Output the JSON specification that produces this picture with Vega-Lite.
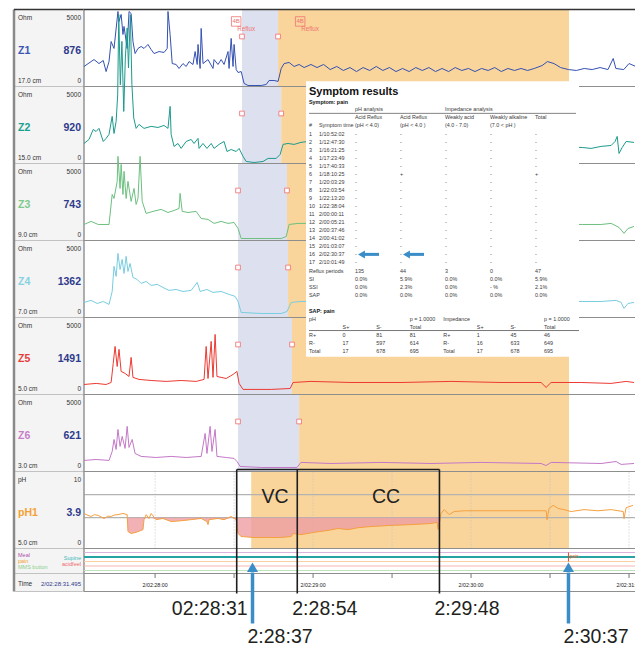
{
"$schema":"https://vega.github.io/schema/vega-lite/v6.json",
"padding":{"left":12,"top":7.5,"right":0,"bottom":0},
"background":"#ffffff",
"bounds":"flush",
"spacing":0,
"config":{"view":{"stroke":null},"font":"Liberation Sans","text":{"font":"Liberation Sans Narrow, Liberation Sans, sans-serif"}},
"datasets":{
"cells":[
{"row":"Z1","unit":"Ohm","max":"5000","val":"876","pos":"17.0 cm","min":"0"},
{"row":"Z2","unit":"Ohm","max":"5000","val":"920","pos":"15.0 cm","min":"0"},
{"row":"Z3","unit":"Ohm","max":"5000","val":"743","pos":"9.0 cm","min":"0"},
{"row":"Z4","unit":"Ohm","max":"5000","val":"1362","pos":"7.0 cm","min":"0"},
{"row":"Z5","unit":"Ohm","max":"5000","val":"1491","pos":"5.0 cm","min":"0"},
{"row":"Z6","unit":"Ohm","max":"5000","val":"621","pos":"3.0 cm","min":"0"},
{"row":"pH1","unit":"pH","max":"10","val":"3.9","pos":"5.0 cm","min":"0"}],
"rows2":[{"row":"events"},{"row":"time","label":"Time","value":"2/02:28:31.495"}],
"tracks":[{"track":"Meal"},{"track":"Supine"},{"track":"pain"},{"track":"acidfeel"},{"track":"MMS button"}],
"ticks":[{"t":0,"label":"2/02:28:00"},{"t":30},{"t":60,"label":"2/02:29:00"},{"t":90},{"t":120,"label":"2/02:30:00"},{"t":150},{"t":180,"label":"2/02:31:00"}],
"phlines":[{"level":4},{"level":7}],
"shade":[
{"panel":"Z1","phase":"bolus","t":33.0,"t2":46.7},{"panel":"Z1","phase":"acid","t":46.7,"t2":157.2},
{"panel":"Z2","phase":"bolus","t":33.0,"t2":47.9},{"panel":"Z2","phase":"acid","t":47.9,"t2":157.2},
{"panel":"Z3","phase":"bolus","t":31.5,"t2":50.1},{"panel":"Z3","phase":"acid","t":50.1,"t2":157.2},
{"panel":"Z4","phase":"bolus","t":31.5,"t2":50.5},{"panel":"Z4","phase":"acid","t":50.5,"t2":157.2},
{"panel":"Z5","phase":"bolus","t":31.5,"t2":52.0},{"panel":"Z5","phase":"acid","t":52.0,"t2":157.2},
{"panel":"Z6","phase":"bolus","t":31.5,"t2":54.7},{"panel":"Z6","phase":"acid","t":54.7,"t2":157.2},
{"panel":"pH1","phase":"acid","t":36.5,"t2":157.2}],
"z":[
{"ch":"Z1","t":-27,"v":1300},{"ch":"Z1","t":-24.3,"v":1620},{"ch":"Z1","t":-23.2,"v":1750},{"ch":"Z1","t":-21.3,"v":1490},{"ch":"Z1","t":-19.7,"v":1690},{"ch":"Z1","t":-18.6,"v":970},{"ch":"Z1","t":-17.5,"v":1620},{"ch":"Z1","t":-16.7,"v":2920},{"ch":"Z1","t":-15.6,"v":2470},{"ch":"Z1","t":-14.1,"v":4870},{"ch":"Z1","t":-13.7,"v":4220},{"ch":"Z1","t":-12.9,"v":4680},{"ch":"Z1","t":-12.2,"v":3380},{"ch":"Z1","t":-11.8,"v":3900},{"ch":"Z1","t":-10.6,"v":2470},{"ch":"Z1","t":-9.9,"v":4870},{"ch":"Z1","t":-9.1,"v":4740},{"ch":"Z1","t":-8.4,"v":2920},{"ch":"Z1","t":-7.6,"v":2140},{"ch":"Z1","t":-6.5,"v":2470},{"ch":"Z1","t":-5.3,"v":2600},{"ch":"Z1","t":-4.2,"v":2470},{"ch":"Z1","t":-2.7,"v":2730},{"ch":"Z1","t":-1.5,"v":2400},{"ch":"Z1","t":-0.4,"v":2140},{"ch":"Z1","t":1.5,"v":2270},{"ch":"Z1","t":3.4,"v":2210},{"ch":"Z1","t":4.6,"v":2470},{"ch":"Z1","t":4.9,"v":4870},{"ch":"Z1","t":5.7,"v":3380},{"ch":"Z1","t":6.5,"v":1490},{"ch":"Z1","t":8.0,"v":1430},{"ch":"Z1","t":9.1,"v":1170},{"ch":"Z1","t":10.6,"v":1490},{"ch":"Z1","t":11.8,"v":1300},{"ch":"Z1","t":12.9,"v":1620},{"ch":"Z1","t":14.4,"v":1430},{"ch":"Z1","t":15.2,"v":2270},{"ch":"Z1","t":16.0,"v":1430},{"ch":"Z1","t":16.3,"v":2730},{"ch":"Z1","t":17.1,"v":1170},{"ch":"Z1","t":17.5,"v":3770},{"ch":"Z1","t":18.2,"v":1490},{"ch":"Z1","t":20.1,"v":1750},{"ch":"Z1","t":22.0,"v":1170},{"ch":"Z1","t":22.4,"v":1750},{"ch":"Z1","t":23.9,"v":1430},{"ch":"Z1","t":25.1,"v":1750},{"ch":"Z1","t":26.2,"v":1430},{"ch":"Z1","t":27.7,"v":2270},{"ch":"Z1","t":28.1,"v":1170},{"ch":"Z1","t":28.9,"v":3120},{"ch":"Z1","t":29.6,"v":1300},{"ch":"Z1","t":30.0,"v":2730},{"ch":"Z1","t":30.8,"v":1100},{"ch":"Z1","t":31.5,"v":910},{"ch":"Z1","t":32.7,"v":970},{"ch":"Z1","t":33.8,"v":200},{"ch":"Z1","t":35.3,"v":65},{"ch":"Z1","t":37.6,"v":65},{"ch":"Z1","t":40.3,"v":65},{"ch":"Z1","t":42.2,"v":130},{"ch":"Z1","t":43.3,"v":390},{"ch":"Z1","t":45.2,"v":390},{"ch":"Z1","t":46.7,"v":330},{"ch":"Z1","t":47.9,"v":1170},{"ch":"Z1","t":49.0,"v":1490},{"ch":"Z1","t":50.9,"v":1560},{"ch":"Z1","t":52.8,"v":1300},{"ch":"Z1","t":54.7,"v":1430},{"ch":"Z1","t":56.6,"v":1230},{"ch":"Z1","t":59.2,"v":1430},{"ch":"Z1","t":61.5,"v":1230},{"ch":"Z1","t":64,"v":1430},{"ch":"Z1","t":66.5,"v":1100},{"ch":"Z1","t":69,"v":1300},{"ch":"Z1","t":71.5,"v":1040},{"ch":"Z1","t":74,"v":1230},{"ch":"Z1","t":76.5,"v":970},{"ch":"Z1","t":79,"v":1230},{"ch":"Z1","t":81.5,"v":1040},{"ch":"Z1","t":84,"v":1300},{"ch":"Z1","t":86.5,"v":1040},{"ch":"Z1","t":89,"v":1230},{"ch":"Z1","t":91.5,"v":970},{"ch":"Z1","t":94,"v":1170},{"ch":"Z1","t":96.5,"v":970},{"ch":"Z1","t":99,"v":1230},{"ch":"Z1","t":101.5,"v":1040},{"ch":"Z1","t":104,"v":1230},{"ch":"Z1","t":106.5,"v":970},{"ch":"Z1","t":109,"v":1170},{"ch":"Z1","t":111.5,"v":970},{"ch":"Z1","t":114,"v":1230},{"ch":"Z1","t":116.5,"v":1040},{"ch":"Z1","t":119,"v":1170},{"ch":"Z1","t":121.5,"v":970},{"ch":"Z1","t":124,"v":1170},{"ch":"Z1","t":126.5,"v":1040},{"ch":"Z1","t":129,"v":1230},{"ch":"Z1","t":131.5,"v":970},{"ch":"Z1","t":134,"v":1170},{"ch":"Z1","t":136.5,"v":1040},{"ch":"Z1","t":139,"v":1170},{"ch":"Z1","t":141.5,"v":1040},{"ch":"Z1","t":144,"v":1170},{"ch":"Z1","t":147,"v":1360},{"ch":"Z1","t":149,"v":1620},{"ch":"Z1","t":151.5,"v":1490},{"ch":"Z1","t":154,"v":1230},{"ch":"Z1","t":157,"v":1100},{"ch":"Z1","t":160,"v":1040},{"ch":"Z1","t":163,"v":1170},{"ch":"Z1","t":166,"v":1100},{"ch":"Z1","t":169,"v":1230},{"ch":"Z1","t":172,"v":1100},{"ch":"Z1","t":174,"v":1820},{"ch":"Z1","t":175,"v":1170},{"ch":"Z1","t":178,"v":1100},{"ch":"Z1","t":180,"v":1490},{"ch":"Z1","t":182.6,"v":1300},
{"ch":"Z2","t":-27,"v":1300},{"ch":"Z2","t":-25.1,"v":1560},{"ch":"Z2","t":-23.5,"v":2210},{"ch":"Z2","t":-22.4,"v":2080},{"ch":"Z2","t":-21.3,"v":2280},{"ch":"Z2","t":-19.7,"v":1430},{"ch":"Z2","t":-18.6,"v":1630},{"ch":"Z2","t":-17.5,"v":1890},{"ch":"Z2","t":-16.3,"v":3060},{"ch":"Z2","t":-15.6,"v":1950},{"ch":"Z2","t":-14.8,"v":2730},{"ch":"Z2","t":-14.2,"v":4460},{"ch":"Z2","t":-13.8,"v":9660},{"ch":"Z2","t":-13.2,"v":5110},{"ch":"Z2","t":-12.6,"v":7930},{"ch":"Z2","t":-11.9,"v":3380},{"ch":"Z2","t":-11.3,"v":6850},{"ch":"Z2","t":-10.6,"v":8800},{"ch":"Z2","t":-10.1,"v":6200},{"ch":"Z2","t":-9.4,"v":9660},{"ch":"Z2","t":-8.8,"v":5110},{"ch":"Z2","t":-8.1,"v":2950},{"ch":"Z2","t":-7.2,"v":2280},{"ch":"Z2","t":-6.1,"v":2540},{"ch":"Z2","t":-4.2,"v":2280},{"ch":"Z2","t":-1.5,"v":2410},{"ch":"Z2","t":1.1,"v":2340},{"ch":"Z2","t":3.4,"v":2470},{"ch":"Z2","t":4.9,"v":2280},{"ch":"Z2","t":5.7,"v":3710},{"ch":"Z2","t":6.1,"v":1890},{"ch":"Z2","t":7.2,"v":1110},{"ch":"Z2","t":8.7,"v":1300},{"ch":"Z2","t":9.9,"v":980},{"ch":"Z2","t":11.8,"v":1430},{"ch":"Z2","t":13.7,"v":1560},{"ch":"Z2","t":14.8,"v":1300},{"ch":"Z2","t":16.3,"v":1630},{"ch":"Z2","t":16.7,"v":980},{"ch":"Z2","t":18.2,"v":1300},{"ch":"Z2","t":19.7,"v":980},{"ch":"Z2","t":21.3,"v":1300},{"ch":"Z2","t":22.4,"v":980},{"ch":"Z2","t":24.3,"v":1240},{"ch":"Z2","t":26.2,"v":1430},{"ch":"Z2","t":27.3,"v":780},{"ch":"Z2","t":28.9,"v":910},{"ch":"Z2","t":30.8,"v":780},{"ch":"Z2","t":31.9,"v":980},{"ch":"Z2","t":33.4,"v":460},{"ch":"Z2","t":34.6,"v":130},{"ch":"Z2","t":37.6,"v":65},{"ch":"Z2","t":41.0,"v":130},{"ch":"Z2","t":42.9,"v":330},{"ch":"Z2","t":46.0,"v":330},{"ch":"Z2","t":47.5,"v":590},{"ch":"Z2","t":48.6,"v":1240},{"ch":"Z2","t":50.5,"v":1300},{"ch":"Z2","t":52.8,"v":1240},{"ch":"Z2","t":55.4,"v":1370},{"ch":"Z2","t":58.1,"v":1430},{"ch":"Z2","t":90,"v":1300},{"ch":"Z2","t":130,"v":1200},{"ch":"Z2","t":162.2,"v":1040},{"ch":"Z2","t":165.6,"v":980},{"ch":"Z2","t":169.4,"v":1110},{"ch":"Z2","t":173.2,"v":1170},{"ch":"Z2","t":174.7,"v":1430},{"ch":"Z2","t":175.5,"v":1760},{"ch":"Z2","t":176.2,"v":650},{"ch":"Z2","t":177.4,"v":1040},{"ch":"Z2","t":178.9,"v":1430},{"ch":"Z2","t":181.9,"v":1370},
{"ch":"Z3","t":-27,"v":1040},{"ch":"Z3","t":-24.3,"v":1240},{"ch":"Z3","t":-21.6,"v":1040},{"ch":"Z3","t":-17.5,"v":1040},{"ch":"Z3","t":-16.3,"v":2990},{"ch":"Z3","t":-15.6,"v":2730},{"ch":"Z3","t":-14.4,"v":3840},{"ch":"Z3","t":-14.1,"v":5460},{"ch":"Z3","t":-13.3,"v":3380},{"ch":"Z3","t":-12.9,"v":4940},{"ch":"Z3","t":-12.2,"v":2990},{"ch":"Z3","t":-11.8,"v":4490},{"ch":"Z3","t":-11.0,"v":2730},{"ch":"Z3","t":-10.3,"v":3840},{"ch":"Z3","t":-9.1,"v":2540},{"ch":"Z3","t":-8.0,"v":3380},{"ch":"Z3","t":-7.2,"v":2340},{"ch":"Z3","t":-6.5,"v":2730},{"ch":"Z3","t":-5.7,"v":5460},{"ch":"Z3","t":-4.9,"v":2540},{"ch":"Z3","t":-3.4,"v":1760},{"ch":"Z3","t":-0.8,"v":1890},{"ch":"Z3","t":2.3,"v":2020},{"ch":"Z3","t":4.9,"v":1820},{"ch":"Z3","t":7.2,"v":1950},{"ch":"Z3","t":9.1,"v":2080},{"ch":"Z3","t":9.5,"v":3060},{"ch":"Z3","t":10.3,"v":1890},{"ch":"Z3","t":12.5,"v":1820},{"ch":"Z3","t":15.6,"v":1890},{"ch":"Z3","t":17.5,"v":1430},{"ch":"Z3","t":20.1,"v":1370},{"ch":"Z3","t":22.4,"v":1110},{"ch":"Z3","t":25.1,"v":1240},{"ch":"Z3","t":27.7,"v":1110},{"ch":"Z3","t":30.0,"v":1170},{"ch":"Z3","t":31.5,"v":780},{"ch":"Z3","t":32.7,"v":130},{"ch":"Z3","t":37.6,"v":130},{"ch":"Z3","t":42.9,"v":130},{"ch":"Z3","t":47.9,"v":130},{"ch":"Z3","t":49.8,"v":260},{"ch":"Z3","t":50.9,"v":1040},{"ch":"Z3","t":54.3,"v":1110},{"ch":"Z3","t":58.1,"v":1110},{"ch":"Z3","t":100,"v":1100},{"ch":"Z3","t":140,"v":1050},{"ch":"Z3","t":162.2,"v":1040},{"ch":"Z3","t":169.4,"v":1040},{"ch":"Z3","t":173.2,"v":1110},{"ch":"Z3","t":176.2,"v":850},{"ch":"Z3","t":178.1,"v":460},{"ch":"Z3","t":179.6,"v":780},{"ch":"Z3","t":181.9,"v":910},
{"ch":"Z4","t":-27,"v":980},{"ch":"Z4","t":-24.3,"v":1110},{"ch":"Z4","t":-22,"v":910},{"ch":"Z4","t":-19.7,"v":1040},{"ch":"Z4","t":-17.5,"v":850},{"ch":"Z4","t":-16.3,"v":1690},{"ch":"Z4","t":-15.6,"v":3320},{"ch":"Z4","t":-14.8,"v":2670},{"ch":"Z4","t":-14.1,"v":4160},{"ch":"Z4","t":-13.3,"v":3120},{"ch":"Z4","t":-12.5,"v":3770},{"ch":"Z4","t":-11.8,"v":2860},{"ch":"Z4","t":-11.0,"v":3970},{"ch":"Z4","t":-10.3,"v":2990},{"ch":"Z4","t":-9.5,"v":3510},{"ch":"Z4","t":-8.4,"v":2600},{"ch":"Z4","t":-6.8,"v":2470},{"ch":"Z4","t":-5.3,"v":2210},{"ch":"Z4","t":-3.4,"v":2340},{"ch":"Z4","t":-1.5,"v":2080},{"ch":"Z4","t":0.8,"v":2150},{"ch":"Z4","t":3.0,"v":1950},{"ch":"Z4","t":5.3,"v":1760},{"ch":"Z4","t":8.0,"v":1820},{"ch":"Z4","t":10.6,"v":1690},{"ch":"Z4","t":13.7,"v":1760},{"ch":"Z4","t":16.0,"v":2280},{"ch":"Z4","t":17.1,"v":1690},{"ch":"Z4","t":19.7,"v":1820},{"ch":"Z4","t":22.0,"v":1630},{"ch":"Z4","t":25.1,"v":1690},{"ch":"Z4","t":28.1,"v":1500},{"ch":"Z4","t":30.4,"v":1370},{"ch":"Z4","t":31.5,"v":1040},{"ch":"Z4","t":32.7,"v":330},{"ch":"Z4","t":40.3,"v":260},{"ch":"Z4","t":47.9,"v":260},{"ch":"Z4","t":50.1,"v":390},{"ch":"Z4","t":51.7,"v":980},{"ch":"Z4","t":55.4,"v":1040},{"ch":"Z4","t":80,"v":1040},{"ch":"Z4","t":120,"v":1000},{"ch":"Z4","t":150,"v":1050},{"ch":"Z4","t":162.2,"v":1040},{"ch":"Z4","t":169.4,"v":1040},{"ch":"Z4","t":175.1,"v":1110},{"ch":"Z4","t":177.0,"v":980},{"ch":"Z4","t":178.1,"v":590},{"ch":"Z4","t":179.6,"v":910},{"ch":"Z4","t":181.9,"v":980},
{"ch":"Z5","t":-27,"v":650},{"ch":"Z5","t":-22.4,"v":720},{"ch":"Z5","t":-18.6,"v":650},{"ch":"Z5","t":-16.7,"v":780},{"ch":"Z5","t":-15.9,"v":2020},{"ch":"Z5","t":-15.2,"v":3120},{"ch":"Z5","t":-14.4,"v":1820},{"ch":"Z5","t":-13.7,"v":2930},{"ch":"Z5","t":-12.9,"v":1500},{"ch":"Z5","t":-11.4,"v":1370},{"ch":"Z5","t":-9.9,"v":1170},{"ch":"Z5","t":-9.1,"v":2410},{"ch":"Z5","t":-8.4,"v":1110},{"ch":"Z5","t":-6.1,"v":980},{"ch":"Z5","t":-1.5,"v":910},{"ch":"Z5","t":4.2,"v":850},{"ch":"Z5","t":9.9,"v":910},{"ch":"Z5","t":15.6,"v":850},{"ch":"Z5","t":18.6,"v":980},{"ch":"Z5","t":19.4,"v":3120},{"ch":"Z5","t":20.1,"v":1040},{"ch":"Z5","t":21.3,"v":3450},{"ch":"Z5","t":22.0,"v":1110},{"ch":"Z5","t":22.8,"v":3900},{"ch":"Z5","t":23.5,"v":1170},{"ch":"Z5","t":27.0,"v":1040},{"ch":"Z5","t":29.6,"v":1300},{"ch":"Z5","t":31.1,"v":1500},{"ch":"Z5","t":31.9,"v":720},{"ch":"Z5","t":33.4,"v":330},{"ch":"Z5","t":44.1,"v":330},{"ch":"Z5","t":51.3,"v":390},{"ch":"Z5","t":52.4,"v":780},{"ch":"Z5","t":59.2,"v":850},{"ch":"Z5","t":74.4,"v":780},{"ch":"Z5","t":93.4,"v":780},{"ch":"Z5","t":112.4,"v":850},{"ch":"Z5","t":131.4,"v":780},{"ch":"Z5","t":146.6,"v":780},{"ch":"Z5","t":148.5,"v":460},{"ch":"Z5","t":150.4,"v":780},{"ch":"Z5","t":161.8,"v":780},{"ch":"Z5","t":173.2,"v":720},{"ch":"Z5","t":178.9,"v":850},{"ch":"Z5","t":181.9,"v":780},
{"ch":"Z6","t":-27,"v":720},{"ch":"Z6","t":-22.4,"v":780},{"ch":"Z6","t":-17.5,"v":720},{"ch":"Z6","t":-16.3,"v":1300},{"ch":"Z6","t":-15.6,"v":2080},{"ch":"Z6","t":-14.8,"v":1430},{"ch":"Z6","t":-14.1,"v":2730},{"ch":"Z6","t":-13.3,"v":1630},{"ch":"Z6","t":-12.5,"v":2280},{"ch":"Z6","t":-11.4,"v":1500},{"ch":"Z6","t":-10.6,"v":2930},{"ch":"Z6","t":-9.9,"v":1560},{"ch":"Z6","t":-8.7,"v":2080},{"ch":"Z6","t":-7.6,"v":1170},{"ch":"Z6","t":-5.3,"v":980},{"ch":"Z6","t":0.4,"v":910},{"ch":"Z6","t":6.1,"v":980},{"ch":"Z6","t":11.8,"v":910},{"ch":"Z6","t":17.5,"v":980},{"ch":"Z6","t":19.0,"v":2470},{"ch":"Z6","t":19.7,"v":1170},{"ch":"Z6","t":20.9,"v":2930},{"ch":"Z6","t":21.6,"v":1300},{"ch":"Z6","t":22.8,"v":2730},{"ch":"Z6","t":23.5,"v":980},{"ch":"Z6","t":27.0,"v":910},{"ch":"Z6","t":30.0,"v":850},{"ch":"Z6","t":31.1,"v":650},{"ch":"Z6","t":32.3,"v":330},{"ch":"Z6","t":40.3,"v":260},{"ch":"Z6","t":53.9,"v":260},{"ch":"Z6","t":55.4,"v":590},{"ch":"Z6","t":66.8,"v":520},{"ch":"Z6","t":85.8,"v":590},{"ch":"Z6","t":104.8,"v":520},{"ch":"Z6","t":123.8,"v":590},{"ch":"Z6","t":146.6,"v":520},{"ch":"Z6","t":148.5,"v":390},{"ch":"Z6","t":150.4,"v":590},{"ch":"Z6","t":169.4,"v":520},{"ch":"Z6","t":175.1,"v":650},{"ch":"Z6","t":177.0,"v":460},{"ch":"Z6","t":181.9,"v":520}],
"ph":[
{"t":-27,"v":4.55},{"t":-25.5,"v":4.3},{"t":-24.3,"v":4.16},{"t":-23,"v":4.4},{"t":-21.6,"v":4.3},{"t":-20.5,"v":4.1},{"t":-19.4,"v":3.9},{"t":-18,"v":4.2},{"t":-16.7,"v":4.16},{"t":-15.5,"v":4.35},{"t":-14.1,"v":4.4},{"t":-12.2,"v":4.55},{"t":-10.6,"v":4.4},{"t":-10.3,"v":2.2},{"t":-9.1,"v":1.95},{"t":-7.2,"v":2.1},{"t":-4.6,"v":2.45},{"t":-4.2,"v":3.75},{"t":-3.4,"v":4.4},{"t":-2.3,"v":3.9},{"t":-1.5,"v":4.55},{"t":0.4,"v":3.75},{"t":3.0,"v":3.9},{"t":6.1,"v":3.5},{"t":9.9,"v":3.6},{"t":13.7,"v":3.75},{"t":17.5,"v":3.9},{"t":19.7,"v":3.5},{"t":20.1,"v":3.1},{"t":20.5,"v":3.75},{"t":23.9,"v":3.9},{"t":26.2,"v":3.75},{"t":28.9,"v":4.16},{"t":30.8,"v":3.75},{"t":31.5,"v":1.95},{"t":32.7,"v":1.56},{"t":37.6,"v":1.43},{"t":42.9,"v":1.43},{"t":47.9,"v":1.43},{"t":51.7,"v":1.56},{"t":52.4,"v":1.95},{"t":55.4,"v":1.8},{"t":60.4,"v":2.1},{"t":65.7,"v":2.35},{"t":69.5,"v":2.6},{"t":73.3,"v":2.45},{"t":77.1,"v":2.7},{"t":82.0,"v":2.85},{"t":89.6,"v":3.0},{"t":97.2,"v":3.1},{"t":104.8,"v":3.25},{"t":107.1,"v":3.4},{"t":107.5,"v":2.45},{"t":108.6,"v":4.55},{"t":109.8,"v":5.05},{"t":111.7,"v":4.4},{"t":113.6,"v":4.8},{"t":117.4,"v":4.9},{"t":125.0,"v":4.9},{"t":135.2,"v":4.9},{"t":145.5,"v":4.9},{"t":148.5,"v":4.9},{"t":148.9,"v":3.75},{"t":149.6,"v":5.2},{"t":151.2,"v":5.6},{"t":153.1,"v":5.2},{"t":155.3,"v":5.05},{"t":158.0,"v":4.8},{"t":162.9,"v":5.05},{"t":168.2,"v":4.9},{"t":173.2,"v":5.05},{"t":177.8,"v":4.8},{"t":178.1,"v":3.9},{"t":178.9,"v":5.3},{"t":181.5,"v":5.6}],
"reflux":[{"t":30.8,"code":"4B","label":"Reflux"},{"t":55.1,"code":"4B","label":"Reflux"}],
"events":[{"t":157,"event":"pain"}],
"annot":[{"t":31,"label":"02:28:31","kind":"line"},{"t":54,"label":"2:28:54","kind":"line"},{"t":108,"label":"2:29:48","kind":"line"},{"t":37,"label":"2:28:37","kind":"arrow"},{"t":157,"label":"2:30:37","kind":"arrow"}],
"phases":[{"t":45.6,"label":"VC"},{"t":87.7,"label":"CC"}],
"ttl":[{"n":-4,"text":"Symptom results"},{"n":-3,"text":"Symptom: pain"},{"n":23,"text":"SAP: pain"}],
"sym":[
{"n":-2,"AR1":"pH analysis","WA":"Impedance analysis"},
{"n":-1,"AR1":"Acid Reflux","AR2":"Acid Reflux","WA":"Weakly acid","WAlk":"Weakly alkaline","Total":"Total"},
{"n":0,"c0":"#","c0b":"Symptom time","AR1":"(pH < 4.0)","AR2":"(pH < 4.0 )","WA":"(4.0 - 7.0)","WAlk":"(7.0 < pH )"},
{"n":1,"c0":"1","c0b":"1/10:52:02","AR1":"-","AR2":"-","WA":"-","WAlk":"-","Total":"-"},
{"n":2,"c0":"2","c0b":"1/12:47:30","AR1":"-","AR2":"-","WA":"-","WAlk":"-","Total":"-"},
{"n":3,"c0":"3","c0b":"1/16:21:25","AR1":"-","AR2":"-","WA":"-","WAlk":"-","Total":"-"},
{"n":4,"c0":"4","c0b":"1/17:23:49","AR1":"-","AR2":"-","WA":"-","WAlk":"-","Total":"-"},
{"n":5,"c0":"5","c0b":"1/17:40:33","AR1":"-","AR2":"-","WA":"-","WAlk":"-","Total":"-"},
{"n":6,"c0":"6","c0b":"1/18:10:25","AR1":"-","AR2":"+","WA":"-","WAlk":"-","Total":"+"},
{"n":7,"c0":"7","c0b":"1/20:03:29","AR1":"-","AR2":"-","WA":"-","WAlk":"-","Total":"-"},
{"n":8,"c0":"8","c0b":"1/22:03:54","AR1":"-","AR2":"-","WA":"-","WAlk":"-","Total":"-"},
{"n":9,"c0":"9","c0b":"1/22:13:20","AR1":"-","AR2":"-","WA":"-","WAlk":"-","Total":"-"},
{"n":10,"c0":"10","c0b":"1/22:38:04","AR1":"-","AR2":"-","WA":"-","WAlk":"-","Total":"-"},
{"n":11,"c0":"11","c0b":"2/00:00:11","AR1":"-","AR2":"-","WA":"-","WAlk":"-","Total":"-"},
{"n":12,"c0":"12","c0b":"2/00:05:21","AR1":"-","AR2":"-","WA":"-","WAlk":"-","Total":"-"},
{"n":13,"c0":"13","c0b":"2/00:37:46","AR1":"-","AR2":"-","WA":"-","WAlk":"-","Total":"-"},
{"n":14,"c0":"14","c0b":"2/00:41:02","AR1":"-","AR2":"-","WA":"-","WAlk":"-","Total":"-"},
{"n":15,"c0":"15","c0b":"2/01:03:07","AR1":"-","AR2":"-","WA":"-","WAlk":"-","Total":"-"},
{"n":16,"c0":"16","c0b":"2/02:30:37","AR1":"-","AR2":"-","WA":"-","WAlk":"-","Total":"-"},
{"n":17,"c0":"17","c0b":"2/10:01:49","AR1":"-","AR2":"-","WA":"-","WAlk":"-","Total":"-"},
{"n":18,"c0":"Reflux periods","AR1":"135","AR2":"44","WA":"3","WAlk":"0","Total":"47"},
{"n":19,"c0":"SI","AR1":"0.0%","AR2":"5.9%","WA":"0.0%","WAlk":"0.0%","Total":"5.9%"},
{"n":20,"c0":"SSI","AR1":"0.0%","AR2":"2.3%","WA":"0.0%","WAlk":"- %","Total":"2.1%"},
{"n":21,"c0":"SAP","AR1":"0.0%","AR2":"0.0%","WA":"0.0%","WAlk":"0.0%","Total":"0.0%"}],
"sap":[
{"n":24,"lab":"pH","Tot":"p = 1.0000","lab2":"Impedance","Tot2":"p = 1.0000"},
{"n":25,"Sp":"S+","Sm":"S-","Tot":"Total","Sp2":"S+","Sm2":"S-","Tot2":"Total"},
{"n":26,"lab":"R+","Sp":"0","Sm":"81","Tot":"81","lab2":"R+","Sp2":"1","Sm2":"45","Tot2":"46"},
{"n":27,"lab":"R-","Sp":"17","Sm":"597","Tot":"614","lab2":"R-","Sp2":"16","Sm2":"633","Tot2":"649"},
{"n":28,"lab":"Total","Sp":"17","Sm":"678","Tot":"695","lab2":"Total","Sp2":"17","Sm2":"678","Tot2":"695"}],
"tarrows":[{"n":16,"col":"AR1"},{"n":16,"col":"AR2"}]
},
"hconcat":[
{
"width":70,"height":582,
"resolve":{"scale":{"y":"independent","color":"independent"}},
"layer":[
{"data":{"name":"cells"},"mark":{"type":"rect","fill":"#f4f4f4","stroke":"#c2c2c2","strokeWidth":1,"cornerRadius":2},
"encoding":{"y":{"field":"row","type":"nominal","scale":{"type":"band","domain":["Z1","Z2","Z3","Z4","Z5","Z6","pH1"],"range":[0,539],"paddingInner":0,"paddingOuter":0},"axis":null}}},
{"data":{"name":"cells"},"mark":{"type":"text","align":"left","baseline":"middle","dx":4,"dy":-30,"fontSize":6.5,"color":"#333333"},
"encoding":{"x":{"datum":0,"type":"quantitative","scale":{"domain":[0,1]},"axis":null},"y":{"field":"row","type":"nominal","scale":{"type":"band","domain":["Z1","Z2","Z3","Z4","Z5","Z6","pH1"],"range":[0,539],"paddingInner":0,"paddingOuter":0},"axis":null},"text":{"field":"unit"}}},
{"data":{"name":"cells"},"mark":{"type":"text","align":"right","baseline":"middle","dx":-3,"dy":-30,"fontSize":6.5,"color":"#333333"},
"encoding":{"x":{"datum":1,"type":"quantitative","scale":{"domain":[0,1]},"axis":null},"y":{"field":"row","type":"nominal","scale":{"type":"band","domain":["Z1","Z2","Z3","Z4","Z5","Z6","pH1"],"range":[0,539],"paddingInner":0,"paddingOuter":0},"axis":null},"text":{"field":"max"}}},
{"data":{"name":"cells"},"mark":{"type":"text","align":"left","baseline":"middle","dx":4,"dy":2.5,"fontSize":10.5,"fontWeight":"bold"},
"encoding":{"x":{"datum":0,"type":"quantitative","scale":{"domain":[0,1]},"axis":null},"y":{"field":"row","type":"nominal","scale":{"type":"band","domain":["Z1","Z2","Z3","Z4","Z5","Z6","pH1"],"range":[0,539],"paddingInner":0,"paddingOuter":0},"axis":null},"text":{"field":"row"},
"color":{"field":"row","type":"nominal","scale":{"domain":["Z1","Z2","Z3","Z4","Z5","Z6","pH1"],"range":["#3a55b4","#17a08f","#7cc98c","#86d2e3","#e83c3c","#c77dc9","#f5a033"]},"legend":null}}},
{"data":{"name":"cells"},"mark":{"type":"text","align":"right","baseline":"middle","dx":-3,"dy":2.5,"fontSize":10.5,"fontWeight":"bold","color":"#2e3a8c"},
"encoding":{"x":{"datum":1,"type":"quantitative","scale":{"domain":[0,1]},"axis":null},"y":{"field":"row","type":"nominal","scale":{"type":"band","domain":["Z1","Z2","Z3","Z4","Z5","Z6","pH1"],"range":[0,539],"paddingInner":0,"paddingOuter":0},"axis":null},"text":{"field":"val"}}},
{"data":{"name":"cells"},"mark":{"type":"text","align":"left","baseline":"middle","dx":4,"dy":33,"fontSize":6.5,"color":"#333333"},
"encoding":{"x":{"datum":0,"type":"quantitative","scale":{"domain":[0,1]},"axis":null},"y":{"field":"row","type":"nominal","scale":{"type":"band","domain":["Z1","Z2","Z3","Z4","Z5","Z6","pH1"],"range":[0,539],"paddingInner":0,"paddingOuter":0},"axis":null},"text":{"field":"pos"}}},
{"data":{"name":"cells"},"mark":{"type":"text","align":"right","baseline":"middle","dx":-3,"dy":33,"fontSize":6.5,"color":"#333333"},
"encoding":{"x":{"datum":1,"type":"quantitative","scale":{"domain":[0,1]},"axis":null},"y":{"field":"row","type":"nominal","scale":{"type":"band","domain":["Z1","Z2","Z3","Z4","Z5","Z6","pH1"],"range":[0,539],"paddingInner":0,"paddingOuter":0},"axis":null},"text":{"field":"min"}}},
{"data":{"name":"rows2"},"transform":[{"filter":"datum.row === 'events'"}],"mark":{"type":"rect","fill":"#f4f4f4","stroke":"#c2c2c2","strokeWidth":1,"cornerRadius":2},
"encoding":{"y":{"field":"row","type":"nominal","scale":{"type":"band","domain":["events"],"range":[539,564],"paddingInner":0,"paddingOuter":0},"axis":null}}},
{"data":{"name":"tracks"},"transform":[{"filter":{"field":"track","oneOf":["Meal","pain","MMS button"]}}],"mark":{"type":"text","align":"left","baseline":"middle","dx":4,"fontSize":5.5},
"encoding":{"x":{"datum":0,"type":"quantitative","scale":{"domain":[0,1]},"axis":null},"y":{"field":"track","type":"nominal","scale":{"type":"point","domain":["Meal","Supine","pain","acidfeel","MMS button"],"range":[545,557.5],"padding":0},"axis":null},"text":{"field":"track"},
"color":{"field":"track","type":"nominal","scale":{"domain":["Meal","Supine","pain","acidfeel","MMS button"],"range":["#b04cb0","#3cb8b8","#f0a030","#f06868","#8ccf8c"]},"legend":null}}},
{"data":{"name":"tracks"},"transform":[{"filter":{"field":"track","oneOf":["Supine","acidfeel"]}}],"mark":{"type":"text","align":"right","baseline":"middle","dx":-3,"fontSize":5.5},
"encoding":{"x":{"datum":1,"type":"quantitative","scale":{"domain":[0,1]},"axis":null},"y":{"field":"track","type":"nominal","scale":{"type":"point","domain":["Meal","Supine","pain","acidfeel","MMS button"],"range":[545,557.5],"padding":0},"axis":null},"text":{"field":"track"},
"color":{"field":"track","type":"nominal","scale":{"domain":["Meal","Supine","pain","acidfeel","MMS button"],"range":["#b04cb0","#3cb8b8","#f0a030","#f06868","#8ccf8c"]},"legend":null}}},
{"data":{"name":"rows2"},"transform":[{"filter":"datum.row === 'time'"}],"mark":{"type":"rect","fill":"#f4f4f4","stroke":"#c2c2c2","strokeWidth":1,"cornerRadius":2},
"encoding":{"y":{"field":"row","type":"nominal","scale":{"type":"band","domain":["time"],"range":[564,582],"paddingInner":0,"paddingOuter":0},"axis":null}}},
{"data":{"name":"rows2"},"transform":[{"filter":"datum.row === 'time'"}],"mark":{"type":"text","align":"left","baseline":"middle","dx":4,"dy":1,"fontSize":6.5,"color":"#333333"},
"encoding":{"x":{"datum":0,"type":"quantitative","scale":{"domain":[0,1]},"axis":null},"y":{"field":"row","type":"nominal","scale":{"type":"band","domain":["time"],"range":[564,582],"paddingInner":0,"paddingOuter":0},"axis":null},"text":{"field":"label"}}},
{"data":{"name":"rows2"},"transform":[{"filter":"datum.row === 'time'"}],"mark":{"type":"text","align":"right","baseline":"middle","dx":-3,"dy":1,"fontSize":6,"color":"#2e3a8c"},
"encoding":{"x":{"datum":1,"type":"quantitative","scale":{"domain":[0,1]},"axis":null},"y":{"field":"row","type":"nominal","scale":{"type":"band","domain":["time"],"range":[564,582],"paddingInner":0,"paddingOuter":0},"axis":null},"text":{"field":"value"}}},
{"data":{"name":"rows2"},"transform":[{"filter":"datum.row === 'time'"}],"mark":{"type":"rule","color":"#8a8a8a","strokeWidth":2.5},
"encoding":{"x":{"datum":0,"type":"quantitative","scale":{"domain":[0,1]},"axis":null}}},
{"data":{"name":"rows2"},"transform":[{"filter":"datum.row === 'time'"}],"mark":{"type":"rule","color":"#333333","strokeWidth":1.5},
"encoding":{"y":{"datum":0,"type":"quantitative","scale":{"domain":[0,1],"range":[0,582]},"axis":null}}}
]
},
{
"width":552,"height":637,
"resolve":{"scale":{"x":"independent","y":"independent"}},
"layer":[
{
"resolve":{"scale":{"y":"independent","color":"independent"}},
"layer":[
{"data":{"name":"shade"},"mark":{"type":"rect"},
"encoding":{"x":{"field":"t","type":"quantitative","scale":{"domain":[-27,182.65],"nice":false,"zero":false},"axis":null},"x2":{"field":"t2"},
"y":{"field":"panel","type":"nominal","scale":{"type":"band","domain":["Z1","Z2","Z3","Z4","Z5","Z6","pH1"],"range":[0,539],"paddingInner":0,"paddingOuter":0},"axis":null},
"color":{"field":"phase","type":"nominal","scale":{"domain":["bolus","acid"],"range":["#dde0ee","#f9d59b"]},"legend":null}}},
{"data":{"name":"ticks"},"mark":{"type":"rule","color":"#c4c4c4","strokeDash":[1,2],"strokeWidth":1},
"encoding":{"x":{"field":"t","type":"quantitative","scale":{"domain":[-27,182.65],"nice":false,"zero":false},"axis":null},
"y":{"datum":0,"type":"quantitative","scale":{"domain":[0,10],"range":[539,462],"nice":false,"zero":false},"axis":null},"y2":{"datum":10}}},
{"data":{"name":"phlines"},"mark":{"type":"rule","color":"#b3b3b3","strokeWidth":1.2},
"encoding":{"y":{"field":"level","type":"quantitative","scale":{"domain":[0,10],"range":[539,462],"nice":false,"zero":false},"axis":null}}},
{"data":{"name":"cells"},"mark":{"type":"rect","filled":false,"color":"#8e8e8e","strokeWidth":1.2},
"encoding":{"y":{"field":"row","type":"nominal","scale":{"type":"band","domain":["Z1","Z2","Z3","Z4","Z5","Z6","pH1"],"range":[0,539],"paddingInner":0,"paddingOuter":0},"axis":null}}},
{"data":{"name":"rows2"},"transform":[{"filter":"datum.row === 'events'"}],"mark":{"type":"rect","filled":false,"color":"#8e8e8e","strokeWidth":1.2},
"encoding":{"y":{"field":"row","type":"nominal","scale":{"type":"band","domain":["events"],"range":[539,564],"paddingInner":0,"paddingOuter":0},"axis":null}}},
{"data":{"name":"rows2"},"transform":[{"filter":"datum.row === 'time'"}],"mark":{"type":"rect","filled":false,"color":"#8e8e8e","strokeWidth":1.2},
"encoding":{"y":{"field":"row","type":"nominal","scale":{"type":"band","domain":["time"],"range":[564,582],"paddingInner":0,"paddingOuter":0},"axis":null}}},
{"data":{"name":"ticks"},"mark":{"type":"rule","color":"#777777","strokeWidth":1},
"encoding":{"x":{"field":"t","type":"quantitative","scale":{"domain":[-27,182.65],"nice":false,"zero":false},"axis":null},
"y":{"datum":0,"type":"quantitative","scale":{"domain":[0,18],"range":[564,582]},"axis":null},"y2":{"datum":4.5}}},
{"data":{"name":"ticks"},"transform":[{"filter":"isValid(datum.label)"}],"mark":{"type":"text","align":"center","baseline":"middle","fontSize":5.3,"color":"#222222"},
"encoding":{"x":{"field":"t","type":"quantitative","scale":{"domain":[-27,182.65],"nice":false,"zero":false},"axis":null},
"y":{"datum":11.5,"type":"quantitative","scale":{"domain":[0,18],"range":[564,582]},"axis":null},"text":{"field":"label"}}},
{"data":{"name":"rows2"},"transform":[{"filter":"datum.row === 'time'"}],"mark":{"type":"rule","color":"#333333","strokeWidth":1.5},
"encoding":{"y":{"datum":5000,"type":"quantitative","scale":{"domain":[0,5000],"range":[77,0],"nice":false,"zero":false},"axis":null}}},
{"data":{"name":"ph"},"mark":{"type":"area","color":"#ee9da3","opacity":0.8},
"encoding":{"x":{"field":"t","type":"quantitative","scale":{"domain":[-27,182.65],"nice":false,"zero":false},"axis":null},
"y":{"field":"v","type":"quantitative","scale":{"domain":[0,4],"range":[539,508.2],"clamp":true,"nice":false,"zero":false},"axis":null},"y2":{"datum":4}}},
{"data":{"name":"z"},"transform":[{"filter":"datum.ch === 'Z1'"}],"mark":{"type":"line","strokeWidth":1,"color":"#3451b2"},
"encoding":{"x":{"field":"t","type":"quantitative","scale":{"domain":[-27,182.65],"nice":false,"zero":false},"axis":null},"y":{"field":"v","type":"quantitative","scale":{"domain":[0,5000],"range":[77,0],"nice":false,"zero":false},"axis":null}}},
{"data":{"name":"z"},"transform":[{"filter":"datum.ch === 'Z2'"}],"mark":{"type":"line","strokeWidth":1,"color":"#1c9a8c"},
"encoding":{"x":{"field":"t","type":"quantitative","scale":{"domain":[-27,182.65],"nice":false,"zero":false},"axis":null},"y":{"field":"v","type":"quantitative","scale":{"domain":[0,5000],"range":[154,77],"nice":false,"zero":false},"axis":null}}},
{"data":{"name":"z"},"transform":[{"filter":"datum.ch === 'Z3'"}],"mark":{"type":"line","strokeWidth":1,"color":"#6cc07f"},
"encoding":{"x":{"field":"t","type":"quantitative","scale":{"domain":[-27,182.65],"nice":false,"zero":false},"axis":null},"y":{"field":"v","type":"quantitative","scale":{"domain":[0,5000],"range":[231,154],"nice":false,"zero":false},"axis":null}}},
{"data":{"name":"z"},"transform":[{"filter":"datum.ch === 'Z4'"}],"mark":{"type":"line","strokeWidth":1,"color":"#78cde0"},
"encoding":{"x":{"field":"t","type":"quantitative","scale":{"domain":[-27,182.65],"nice":false,"zero":false},"axis":null},"y":{"field":"v","type":"quantitative","scale":{"domain":[0,5000],"range":[308,231],"nice":false,"zero":false},"axis":null}}},
{"data":{"name":"z"},"transform":[{"filter":"datum.ch === 'Z5'"}],"mark":{"type":"line","strokeWidth":1,"color":"#ec3a32"},
"encoding":{"x":{"field":"t","type":"quantitative","scale":{"domain":[-27,182.65],"nice":false,"zero":false},"axis":null},"y":{"field":"v","type":"quantitative","scale":{"domain":[0,5000],"range":[385,308],"nice":false,"zero":false},"axis":null}}},
{"data":{"name":"z"},"transform":[{"filter":"datum.ch === 'Z6'"}],"mark":{"type":"line","strokeWidth":1,"color":"#c478c8"},
"encoding":{"x":{"field":"t","type":"quantitative","scale":{"domain":[-27,182.65],"nice":false,"zero":false},"axis":null},"y":{"field":"v","type":"quantitative","scale":{"domain":[0,5000],"range":[462,385],"nice":false,"zero":false},"axis":null}}},
{"data":{"name":"ph"},"mark":{"type":"line","strokeWidth":1,"color":"#f5a040"},
"encoding":{"x":{"field":"t","type":"quantitative","scale":{"domain":[-27,182.65],"nice":false,"zero":false},"axis":null},"y":{"field":"v","type":"quantitative","scale":{"domain":[0,10],"range":[539,462],"nice":false,"zero":false},"axis":null}}},
{"data":{"name":"shade"},"transform":[{"filter":"datum.phase === 'bolus'"}],"mark":{"type":"point","shape":"square","size":22,"filled":true,"fill":"#ffffff","stroke":"#f06a6a","strokeWidth":0.8,"opacity":1,"yOffset":-11.5},
"encoding":{"x":{"field":"t","type":"quantitative","scale":{"domain":[-27,182.65],"nice":false,"zero":false},"axis":null},"y":{"field":"panel","type":"nominal","scale":{"type":"band","domain":["Z1","Z2","Z3","Z4","Z5","Z6","pH1"],"range":[0,539],"paddingInner":0,"paddingOuter":0},"axis":null}}},
{"data":{"name":"shade"},"transform":[{"filter":"datum.phase === 'bolus'"}],"mark":{"type":"point","shape":"square","size":22,"filled":true,"fill":"#ffffff","stroke":"#f06a6a","strokeWidth":0.8,"opacity":1,"yOffset":-11.5},
"encoding":{"x":{"field":"t2","type":"quantitative","scale":{"domain":[-27,182.65],"nice":false,"zero":false},"axis":null},"y":{"field":"panel","type":"nominal","scale":{"type":"band","domain":["Z1","Z2","Z3","Z4","Z5","Z6","pH1"],"range":[0,539],"paddingInner":0,"paddingOuter":0},"axis":null}}},
{"data":{"name":"reflux"},"mark":{"type":"point","shape":"square","size":90,"filled":false,"color":"#f07373","strokeWidth":0.8,"opacity":1},
"encoding":{"x":{"field":"t","type":"quantitative","scale":{"domain":[-27,182.65],"nice":false,"zero":false},"axis":null},"y":{"datum":4225,"type":"quantitative","scale":{"domain":[0,5000],"range":[77,0],"nice":false,"zero":false},"axis":null}}},
{"data":{"name":"reflux"},"mark":{"type":"text","align":"center","baseline":"middle","fontSize":6,"color":"#f07373"},
"encoding":{"x":{"field":"t","type":"quantitative","scale":{"domain":[-27,182.65],"nice":false,"zero":false},"axis":null},"y":{"datum":4225,"type":"quantitative","scale":{"domain":[0,5000],"range":[77,0],"nice":false,"zero":false},"axis":null},"text":{"field":"code"}}},
{"data":{"name":"reflux"},"mark":{"type":"text","align":"left","baseline":"middle","dx":1,"fontSize":6.3,"color":"#f07373"},
"encoding":{"x":{"field":"t","type":"quantitative","scale":{"domain":[-27,182.65],"nice":false,"zero":false},"axis":null},"y":{"datum":3705,"type":"quantitative","scale":{"domain":[0,5000],"range":[77,0],"nice":false,"zero":false},"axis":null},"text":{"field":"label"}}},
{"data":{"name":"tracks"},"mark":{"type":"rule"},
"encoding":{"y":{"field":"track","type":"nominal","scale":{"type":"point","domain":["Meal","Supine","pain","acidfeel","MMS button"],"range":[543,561],"padding":0},"axis":null},
"color":{"field":"track","type":"nominal","scale":{"domain":["Meal","Supine","pain","acidfeel","MMS button"],"range":["#d9b4dd","#26a3a3","#f9cfa3","#f6b6b0","#bde3bd"]},"legend":null},
"strokeWidth":{"condition":{"test":"datum.track === 'Supine'","value":2.2},"value":1}}},
{"data":{"name":"events"},"mark":{"type":"rule","color":"#e5482a","strokeWidth":1},
"encoding":{"x":{"field":"t","type":"quantitative","scale":{"domain":[-27,182.65],"nice":false,"zero":false},"axis":null},"y":{"datum":"Meal","type":"nominal","scale":{"type":"point","domain":["Meal","Supine","pain","acidfeel","MMS button"],"range":[543,561],"padding":0},"axis":null},"y2":{"datum":"pain"}}},
{"data":{"name":"events"},"mark":{"type":"text","align":"left","baseline":"middle","dx":1.5,"fontSize":4.5,"color":"#e06a2a"},
"encoding":{"x":{"field":"t","type":"quantitative","scale":{"domain":[-27,182.65],"nice":false,"zero":false},"axis":null},"y":{"datum":"Supine","type":"nominal","scale":{"type":"point","domain":["Meal","Supine","pain","acidfeel","MMS button"],"range":[543,561],"padding":0},"axis":null},"text":{"field":"event"}}},
{"data":{"name":"annot"},"transform":[{"filter":"datum.kind === 'line'"}],"mark":{"type":"rule","color":"#1e1e1e","strokeWidth":1.6},
"encoding":{"x":{"field":"t","type":"quantitative","scale":{"domain":[-27,182.65],"nice":false,"zero":false},"axis":null},"y":{"datum":0,"type":"quantitative","scale":{"domain":[0,1],"range":[460,584]},"axis":null},"y2":{"datum":1}}},
{"data":{"name":"annot"},"transform":[{"filter":"datum.kind === 'line'"}],"mark":{"type":"rule","color":"#1e1e1e","strokeWidth":1.6},
"encoding":{"x":{"aggregate":"min","field":"t","type":"quantitative","scale":{"domain":[-27,182.65],"nice":false,"zero":false},"axis":null},"x2":{"aggregate":"max","field":"t"},"y":{"datum":0,"type":"quantitative","scale":{"domain":[0,1],"range":[460,584]},"axis":null}}},
{"data":{"name":"phases"},"mark":{"type":"text","align":"center","baseline":"middle","fontSize":19.5,"font":"Liberation Sans","color":"#231f20"},
"encoding":{"x":{"field":"t","type":"quantitative","scale":{"domain":[-27,182.65],"nice":false,"zero":false},"axis":null},"y":{"datum":6.75,"type":"quantitative","scale":{"domain":[0,10],"range":[539,462],"nice":false,"zero":false},"axis":null},"text":{"field":"label"}}},
{"data":{"name":"annot"},"transform":[{"filter":"datum.kind === 'arrow'"}],"mark":{"type":"rule","color":"#3b8dc8","strokeWidth":3.5},
"encoding":{"x":{"field":"t","type":"quantitative","scale":{"domain":[-27,182.65],"nice":false,"zero":false},"axis":null},"y":{"datum":0,"type":"quantitative","scale":{"domain":[0,1],"range":[614,555]},"axis":null},"y2":{"datum":0.864}}},
{"data":{"name":"annot"},"transform":[{"filter":"datum.kind === 'arrow'"}],"mark":{"type":"point","shape":"triangle-up","size":121,"filled":true,"color":"#3b8dc8","opacity":1},
"encoding":{"x":{"field":"t","type":"quantitative","scale":{"domain":[-27,182.65],"nice":false,"zero":false},"axis":null},"y":{"datum":0.953,"type":"quantitative","scale":{"domain":[0,1],"range":[614,555]},"axis":null}}},
{"data":{"name":"annot"},"transform":[{"filter":"datum.kind === 'line' && datum.label !== '02:28:31'"}],"mark":{"type":"text","align":"left","baseline":"middle","dx":-5,"fontSize":19.5,"font":"Liberation Sans","color":"#231f20"},
"encoding":{"x":{"field":"t","type":"quantitative","scale":{"domain":[-27,182.65],"nice":false,"zero":false},"axis":null},"y":{"datum":0,"type":"quantitative","scale":{"domain":[0,1],"range":[599,627]},"axis":null},"text":{"field":"label"}}},
{"data":{"name":"annot"},"transform":[{"filter":"datum.label === '02:28:31'"}],"mark":{"type":"text","align":"right","baseline":"middle","dx":11,"fontSize":19.5,"font":"Liberation Sans","color":"#231f20"},
"encoding":{"x":{"field":"t","type":"quantitative","scale":{"domain":[-27,182.65],"nice":false,"zero":false},"axis":null},"y":{"datum":0,"type":"quantitative","scale":{"domain":[0,1],"range":[599,627]},"axis":null},"text":{"field":"label"}}},
{"data":{"name":"annot"},"transform":[{"filter":"datum.kind === 'arrow'"}],"mark":{"type":"text","align":"left","baseline":"middle","dx":-5,"fontSize":19.5,"font":"Liberation Sans","color":"#231f20"},
"encoding":{"x":{"field":"t","type":"quantitative","scale":{"domain":[-27,182.65],"nice":false,"zero":false},"axis":null},"y":{"datum":1,"type":"quantitative","scale":{"domain":[0,1],"range":[599,627]},"axis":null},"text":{"field":"label"}}}
]
},
{
"resolve":{"scale":{"x":"independent"}},
"layer":[
{"data":{"name":"ttl"},"transform":[{"filter":"datum.n === -4"}],"mark":{"type":"rect","color":"#ffffff","xOffset":-3,"x2Offset":45},
"encoding":{"x":{"datum":"sym","type":"nominal","scale":{"type":"point","domain":["sym","AR1","AR2","WA","WAlk","Total"],"range":[225,450],"padding":0},"axis":null},"x2":{"datum":"Total"},
"y":{"datum":-5.5,"type":"quantitative","scale":{"domain":[-6,30],"range":[67.6,357.7],"nice":false,"zero":false},"axis":null},"y2":{"datum":28.7}}},
{"data":{"name":"ttl"},"transform":[{"filter":"datum.n === -4"}],"mark":{"type":"text","align":"left","baseline":"middle","dy":-1.5,"fontSize":11,"fontWeight":"bold","color":"#111111"},
"encoding":{"x":{"datum":"sym","type":"nominal","scale":{"type":"point","domain":["sym","AR1","AR2","WA","WAlk","Total"],"range":[225,450],"padding":0},"axis":null},
"y":{"field":"n","type":"quantitative","scale":{"domain":[-6,30],"range":[67.6,357.7],"nice":false,"zero":false},"axis":null},"text":{"field":"text"}}},
{"data":{"name":"ttl"},"transform":[{"filter":"datum.n !== -4"}],"mark":{"type":"text","align":"left","baseline":"middle","dy":0.5,"fontSize":5.4,"fontWeight":"bold","color":"#111111"},
"encoding":{"x":{"datum":"sym","type":"nominal","scale":{"type":"point","domain":["sym","AR1","AR2","WA","WAlk","Total"],"range":[225,450],"padding":0},"axis":null},
"y":{"field":"n","type":"quantitative","scale":{"domain":[-6,30],"range":[67.6,357.7],"nice":false,"zero":false},"axis":null},"text":{"field":"text"}}},
{"data":{"name":"ttl"},"transform":[{"filter":"datum.n === -4"}],"mark":{"type":"rule","color":"#666666","strokeWidth":0.8,"x2Offset":42},
"encoding":{"x":{"datum":"sym","type":"nominal","scale":{"type":"point","domain":["sym","AR1","AR2","WA","WAlk","Total"],"range":[225,450],"padding":0},"axis":null},"x2":{"datum":"Total"},
"y":{"datum":-1.5,"type":"quantitative","scale":{"domain":[-6,30],"range":[67.6,357.7],"nice":false,"zero":false},"axis":null}}},
{"data":{"name":"sym"},"transform":[{"fold":["AR1","AR2","WA","WAlk","Total"],"as":["col","text"]},{"filter":"isValid(datum.text)"}],"mark":{"type":"text","align":"left","baseline":"middle","dx":1,"fontSize":5.4,"color":"#3a3a3a"},
"encoding":{"x":{"field":"col","type":"nominal","scale":{"type":"point","domain":["sym","AR1","AR2","WA","WAlk","Total"],"range":[225,450],"padding":0},"axis":null},
"y":{"field":"n","type":"quantitative","scale":{"domain":[-6,30],"range":[67.6,357.7],"nice":false,"zero":false},"axis":null},"text":{"field":"text"}}},
{"data":{"name":"sym"},"transform":[{"filter":"isValid(datum.c0)"}],"mark":{"type":"text","align":"left","baseline":"middle","fontSize":5.4,"color":"#3a3a3a"},
"encoding":{"x":{"datum":"sym","type":"nominal","scale":{"type":"point","domain":["sym","AR1","AR2","WA","WAlk","Total"],"range":[225,450],"padding":0},"axis":null},
"y":{"field":"n","type":"quantitative","scale":{"domain":[-6,30],"range":[67.6,357.7],"nice":false,"zero":false},"axis":null},"text":{"field":"c0"}}},
{"data":{"name":"sym"},"transform":[{"filter":"isValid(datum.c0b)"}],"mark":{"type":"text","align":"left","baseline":"middle","dx":10,"fontSize":5.4,"color":"#3a3a3a"},
"encoding":{"x":{"datum":"sym","type":"nominal","scale":{"type":"point","domain":["sym","AR1","AR2","WA","WAlk","Total"],"range":[225,450],"padding":0},"axis":null},
"y":{"field":"n","type":"quantitative","scale":{"domain":[-6,30],"range":[67.6,357.7],"nice":false,"zero":false},"axis":null},"text":{"field":"c0b"}}},
{"data":{"name":"tarrows"},"mark":{"type":"rule","color":"#3b8dc8","strokeWidth":3,"xOffset":10,"x2Offset":25},
"encoding":{"x":{"field":"col","type":"nominal","scale":{"type":"point","domain":["sym","AR1","AR2","WA","WAlk","Total"],"range":[225,450],"padding":0},"axis":null},"x2":{"field":"col"},
"y":{"field":"n","type":"quantitative","scale":{"domain":[-6,30],"range":[67.6,357.7],"nice":false,"zero":false},"axis":null}}},
{"data":{"name":"tarrows"},"mark":{"type":"point","shape":"triangle-left","size":64,"filled":true,"color":"#3b8dc8","opacity":1,"xOffset":7.5},
"encoding":{"x":{"field":"col","type":"nominal","scale":{"type":"point","domain":["sym","AR1","AR2","WA","WAlk","Total"],"range":[225,450],"padding":0},"axis":null},
"y":{"field":"n","type":"quantitative","scale":{"domain":[-6,30],"range":[67.6,357.7],"nice":false,"zero":false},"axis":null}}},
{"data":{"name":"sap"},"transform":[{"fold":["lab","Sp","Sm","Tot","lab2","Sp2","Sm2","Tot2"],"as":["col","text"]},{"filter":"isValid(datum.text)"}],"mark":{"type":"text","align":"left","baseline":"middle","fontSize":5.4,"color":"#3a3a3a"},
"encoding":{"x":{"field":"col","type":"nominal","scale":{"type":"point","domain":["lab","Sp","Sm","Tot","lab2","Sp2","Sm2","Tot2"],"range":[225,460],"padding":0},"axis":null},
"y":{"field":"n","type":"quantitative","scale":{"domain":[-6,30],"range":[67.6,357.7],"nice":false,"zero":false},"axis":null},"text":{"field":"text"}}},
{"data":{"name":"ttl"},"transform":[{"filter":"datum.n === 23"}],"mark":{"type":"rule","color":"#555555","strokeWidth":0.8,"x2Offset":35},
"encoding":{"x":{"datum":"lab","type":"nominal","scale":{"type":"point","domain":["lab","Sp","Sm","Tot","lab2","Sp2","Sm2","Tot2"],"range":[225,460],"padding":0},"axis":null},"x2":{"datum":"Tot2"},
"y":{"datum":25.45,"type":"quantitative","scale":{"domain":[-6,30],"range":[67.6,357.7],"nice":false,"zero":false},"axis":null}}}
]
}
]
}
]
}
